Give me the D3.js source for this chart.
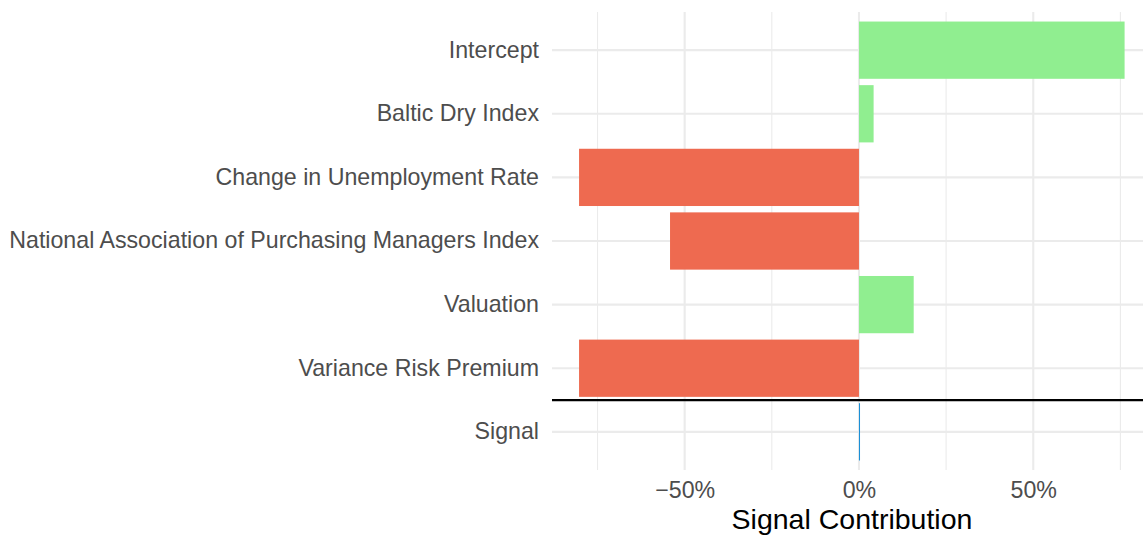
<!DOCTYPE html>
<html>
<head>
<meta charset="utf-8">
<script src="https://cdn.jsdelivr.net/npm/d3@7"></script>
<style>
  html, body { margin: 0; padding: 0; background: #fff; overflow: hidden; }
  svg { display: block; }
  text { font-family: "Liberation Sans", Arial, Helvetica, sans-serif; }
</style>
</head>
<body>
<svg id="chart" width="1143" height="537"></svg>
<script>
// ---- data ----
const categories = [
  "Intercept",
  "Baltic Dry Index",
  "Change in Unemployment Rate",
  "National Association of Purchasing Managers Index",
  "Valuation",
  "Variance Risk Premium",
  "Signal"
];
const contributions = [0.762, 0.042, -0.803, -0.542, 0.157, -0.803, 0.003];
const barColors = ["#90EE90", "#90EE90", "#EE6A50", "#EE6A50", "#90EE90", "#EE6A50", "#1B8FD6"];
const majorTicks = [-0.5, 0, 0.5];
const minorTicks = [-0.75, -0.25, 0.25, 0.75];
const xTitle = "Signal Contribution";

// ---- layout ----
const panel = { left: 552, right: 1143, top: 12, bottom: 470 };
const svg = d3.select("#chart");

const x = d3.scaleLinear().domain([-0.8806, 0.8148]).range([panel.left, panel.right]);
const y = d3.scaleBand().domain(categories)
  .range([panel.top, panel.bottom])
  .paddingInner(0.1).paddingOuter(0.15);

const grid = svg.append("g");
grid.selectAll("line.minor").data(minorTicks).join("line")
  .attr("x1", d => x(d)).attr("x2", d => x(d))
  .attr("y1", panel.top).attr("y2", panel.bottom)
  .attr("stroke", "#EBEBEB").attr("stroke-width", 1.1);
grid.selectAll("line.major").data(majorTicks).join("line")
  .attr("x1", d => x(d)).attr("x2", d => x(d))
  .attr("y1", panel.top).attr("y2", panel.bottom)
  .attr("stroke", "#EBEBEB").attr("stroke-width", 2.1);
grid.selectAll("line.h").data(categories).join("line")
  .attr("x1", panel.left).attr("x2", panel.right)
  .attr("y1", d => y(d) + y.bandwidth() / 2).attr("y2", d => y(d) + y.bandwidth() / 2)
  .attr("stroke", "#EBEBEB").attr("stroke-width", 2.1);

// bars
svg.append("g").selectAll("rect").data(categories).join("rect")
  .attr("x", (d, i) => x(Math.min(0, contributions[i])))
  .attr("width", (d, i) => Math.max(1, Math.abs(x(contributions[i]) - x(0))))
  .attr("y", d => y(d))
  .attr("height", y.bandwidth())
  .attr("fill", (d, i) => barColors[i]);

// separator line between components and signal
const sepY = (y("Variance Risk Premium") + y.bandwidth() / 2 + y("Signal") + y.bandwidth() / 2) / 2;
svg.append("line")
  .attr("x1", panel.left).attr("x2", panel.right)
  .attr("y1", sepY).attr("y2", sepY)
  .attr("stroke", "#000").attr("stroke-width", 2.2);

// y axis labels
const yAxis = d3.axisLeft(y).tickSize(0).tickPadding(13);
const yg = svg.append("g").attr("transform", `translate(${panel.left},0)`).call(yAxis);
yg.select(".domain").remove();
yg.selectAll("text").attr("font-size", 23.2).attr("fill", "#4D4D4D")
  .attr("font-family", "Liberation Sans, Arial, sans-serif");

// x axis labels
const fmt = d => (d < 0 ? "\u2212" : "") + Math.abs(Math.round(d * 100)) + "%";
const xAxis = d3.axisBottom(x).tickValues(majorTicks).tickFormat(fmt).tickSize(0).tickPadding(12);
const xg = svg.append("g").attr("transform", `translate(0,${panel.bottom})`).call(xAxis);
xg.select(".domain").remove();
xg.selectAll("text").attr("font-size", 23.2).attr("fill", "#4D4D4D")
  .attr("font-family", "Liberation Sans, Arial, sans-serif");

// x axis title
svg.append("text")
  .attr("x", (panel.left + 1152) / 2).attr("y", 529)
  .attr("text-anchor", "middle")
  .attr("font-size", 28.5).attr("fill", "#000")
  .text(xTitle);
</script>
</body>
</html>
